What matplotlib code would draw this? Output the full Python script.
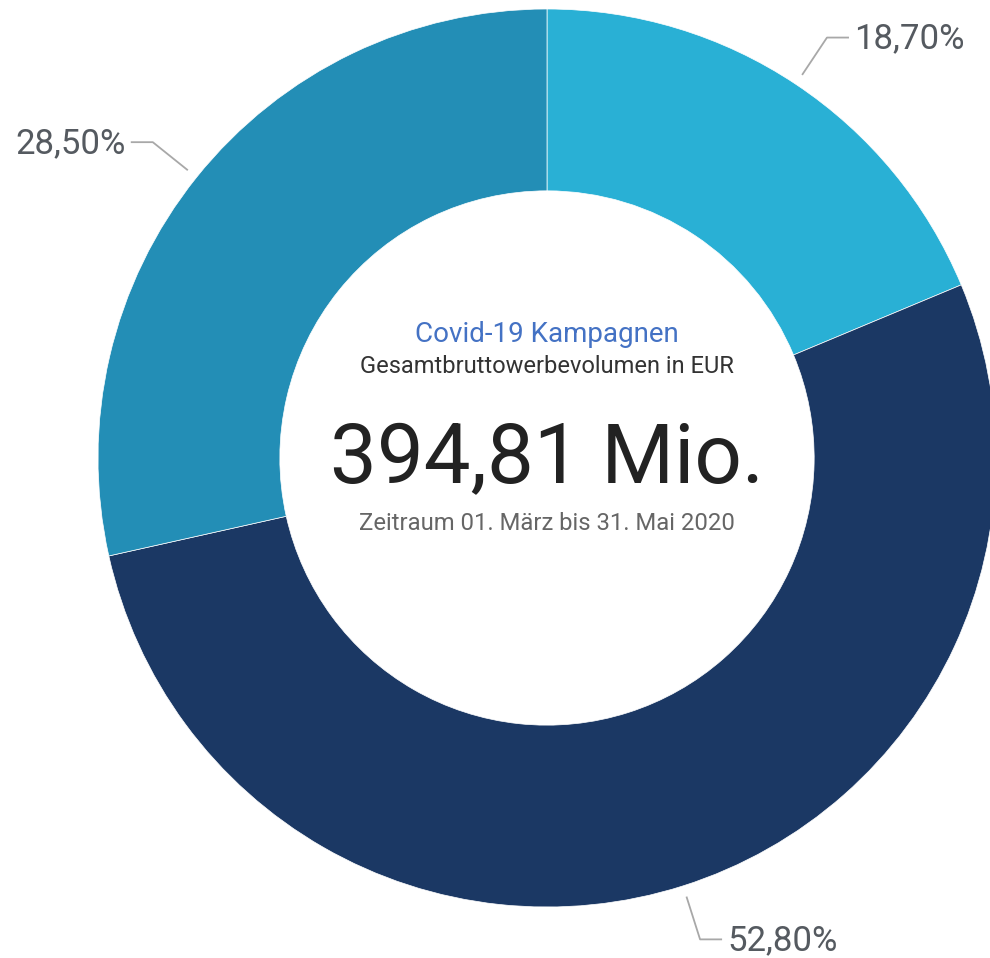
import numpy as np
import matplotlib
matplotlib.use("Agg")
import matplotlib.pyplot as plt

# shares of the Covid-19 campaigns (clockwise from top)
shares = [18.70, 52.80, 28.50]
share_labels = ["18,70%", "52,80%", "28,50%"]
colors = ["#29B0D5", "#1B3864", "#238EB6"]

title = "Covid-19 Kampagnen"
subtitle = "Gesamtbruttowerbevolumen in EUR"
total = "394,81 Mio."
period = "Zeitraum 01. März bis 31. Mai 2020"

W, H = 990, 958
fig = plt.figure(figsize=(W / 100, H / 100), dpi=100)
ax = fig.add_axes([0, 0, 1, 1])

cx, cy = 547, H - 458
R = 449
wedges, _ = ax.pie(shares, colors=colors, startangle=90, counterclock=False,
                   radius=R, center=(cx, cy), frame=True,
                   wedgeprops=dict(width=R * 0.405, edgecolor="white", linewidth=0.5))
ax.set_xlim(0, W)
ax.set_ylim(0, H)
ax.set_aspect("equal")
ax.axis("off")

# leader lines and labels
for w, lab in zip(wedges, share_labels):
    mid = np.deg2rad((w.theta1 + w.theta2) / 2)
    x0, y0 = cx + R * 1.025 * np.cos(mid), cy + R * 1.025 * np.sin(mid)
    x1, y1 = cx + R * 1.125 * np.cos(mid), cy + R * 1.125 * np.sin(mid)
    side = 1 if np.cos(mid) >= 0 else -1
    x2 = x1 + side * 22
    ax.plot([x0, x1, x2], [y0, y1, y1], color="#A8A8A8", lw=1.3, solid_capstyle="butt")
    ax.text(x2 + side * 5, y1 - 11, lab, ha="left" if side > 0 else "right", va="baseline",
            fontsize=25, color="#555A60", family="Roboto")

ax.text(cx, H - 342, title, ha="center", va="baseline", fontsize=20,
        color="#4472C4", family="Roboto")
ax.text(cx, H - 373, subtitle, ha="center", va="baseline", fontsize=17,
        color="#333333", family="Roboto")
ax.text(cx, H - 483, total, ha="center", va="baseline", fontsize=60,
        color="#222222", family="Roboto")
ax.text(cx, H - 530, period, ha="center", va="baseline", fontsize=17.2,
        color="#666666", family="Roboto")

fig.savefig("out.png", dpi=100, facecolor="white")
